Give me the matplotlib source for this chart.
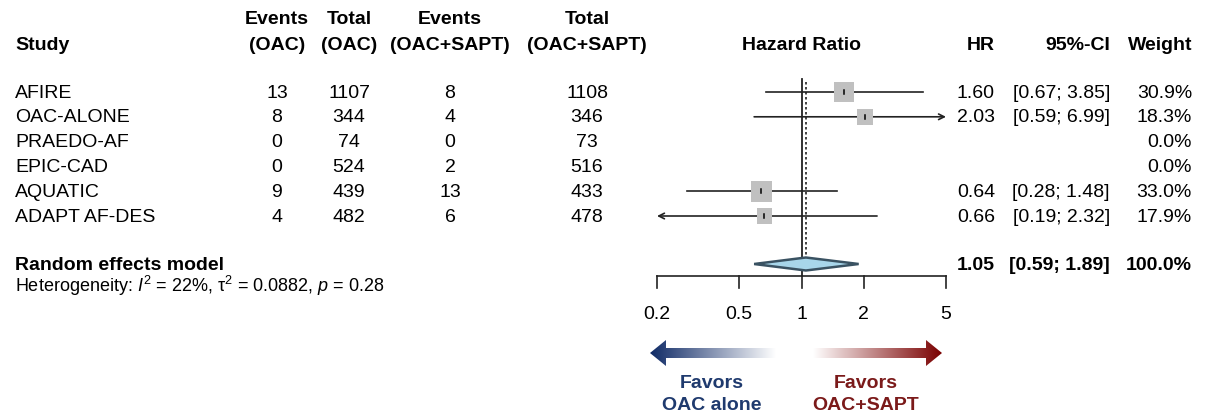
import numpy as np
import matplotlib
matplotlib.use("Agg")
import matplotlib.pyplot as plt
from matplotlib.patches import Polygon
from matplotlib.colors import to_rgb

plt.rcParams['font.family'] = ['Liberation Sans', 'DejaVu Sans']
plt.rcParams['mathtext.fontset'] = 'custom'
plt.rcParams['mathtext.rm'] = 'Liberation Sans'
plt.rcParams['mathtext.it'] = 'Liberation Sans:italic'

# study data
studies = ["AFIRE", "OAC-ALONE", "PRAEDO-AF", "EPIC-CAD", "AQUATIC", "ADAPT AF-DES"]
ev_oac = [13, 8, 0, 0, 9, 4]
n_oac = [1107, 344, 74, 524, 439, 482]
ev_sapt = [8, 4, 0, 2, 13, 6]
n_sapt = [1108, 346, 73, 516, 433, 478]
hr = [1.60, 2.03, None, None, 0.64, 0.66]
ci_lo = [0.67, 0.59, None, None, 0.28, 0.19]
ci_hi = [3.85, 6.99, None, None, 1.48, 2.32]
weight = [30.9, 18.3, 0.0, 0.0, 33.0, 17.9]

# pooled estimate
pooled_hr = 1.05
pooled_lo = 0.59
pooled_hi = 1.89
pooled_weight = 100.0
het_text = "Heterogeneity: $I^2$ = 22%, τ$^2$ = 0.0882, $p$ = 0.28"

xticks = [0.2, 0.5, 1, 2, 5]
xlim = (0.2, 5)

W, H = 1206, 416
fig = plt.figure(figsize=(W / 100, H / 100), dpi=100)

# overlay axes in pixel coordinates for the table text
tx = fig.add_axes([0, 0, 1, 1])
tx.set_xlim(0, W)
tx.set_ylim(H, 0)
tx.axis('off')

fs = 14
row_y = [93 + 24.8 * i for i in range(len(studies))]
re_y = 265

# headers
tx.text(15, 45, "Study", fontsize=fs, fontweight='bold', va='center', ha='left')
cols = [(277, "Events", "(OAC)"), (349, "Total", "(OAC)"),
        (450, "Events", "(OAC+SAPT)"), (587, "Total", "(OAC+SAPT)")]
for cx, l1, l2 in cols:
    tx.text(cx, 19, l1, fontsize=fs, fontweight='bold', va='center', ha='center')
    tx.text(cx, 45, l2, fontsize=fs, fontweight='bold', va='center', ha='center')
tx.text(801, 45, "Hazard Ratio", fontsize=fs, fontweight='bold', va='center', ha='center')
tx.text(995, 45, "HR", fontsize=fs, fontweight='bold', va='center', ha='right')
tx.text(1110, 45, "95%-CI", fontsize=fs, fontweight='bold', va='center', ha='right')
tx.text(1192, 45, "Weight", fontsize=fs, fontweight='bold', va='center', ha='right')

# study rows
for i, y in enumerate(row_y):
    tx.text(15, y, studies[i], fontsize=fs, va='center', ha='left')
    tx.text(277, y, str(ev_oac[i]), fontsize=fs, va='center', ha='center')
    tx.text(349, y, str(n_oac[i]), fontsize=fs, va='center', ha='center')
    tx.text(450, y, str(ev_sapt[i]), fontsize=fs, va='center', ha='center')
    tx.text(587, y, str(n_sapt[i]), fontsize=fs, va='center', ha='center')
    if hr[i] is not None:
        tx.text(995, y, "%.2f" % hr[i], fontsize=fs, va='center', ha='right')
        tx.text(1110, y, "[%.2f; %.2f]" % (ci_lo[i], ci_hi[i]), fontsize=fs, va='center', ha='right')
    tx.text(1192, y, "%.1f%%" % weight[i], fontsize=fs, va='center', ha='right')

# pooled row
tx.text(15, re_y, "Random effects model", fontsize=fs, fontweight='bold', va='center', ha='left')
tx.text(995, re_y, "%.2f" % pooled_hr, fontsize=fs, fontweight='bold', va='center', ha='right')
tx.text(1110, re_y, "[%.2f; %.2f]" % (pooled_lo, pooled_hi), fontsize=fs, fontweight='bold',
        va='center', ha='right')
tx.text(1192, re_y, "%.1f%%" % pooled_weight, fontsize=fs, fontweight='bold', va='center', ha='right')
tx.text(15, 286, het_text, fontsize=13, va='center', ha='left')

# forest plot axes: log x, y in pixel rows
fx0, fx1, fy0, fy1 = 657, 946, 70, 330
ax = fig.add_axes([fx0 / W, 1 - fy1 / H, (fx1 - fx0) / W, (fy1 - fy0) / H])
ax.set_xscale('log')
ax.set_xlim(*xlim)
ax.set_ylim(fy1, fy0)
ax.axis('off')

axis_y = 276
ax.plot([1, 1], [79, axis_y], color='#222222', lw=1.3)
ax.plot([pooled_hr, pooled_hr], [82, 257], color='#222222', lw=1.2, ls=(0, (1.5, 1.5)))

for i, y in enumerate(row_y):
    if hr[i] is None:
        continue
    yy = y - 1
    lo = max(ci_lo[i], xlim[0])
    hi = min(ci_hi[i], xlim[1])
    if ci_hi[i] > xlim[1]:
        ax.annotate('', xy=(hi, yy), xytext=(lo, yy),
                    arrowprops=dict(arrowstyle='->', lw=1.2, color='#222222',
                                    shrinkA=0, shrinkB=0), annotation_clip=False)
    elif ci_lo[i] < xlim[0]:
        ax.annotate('', xy=(lo, yy), xytext=(hi, yy),
                    arrowprops=dict(arrowstyle='->', lw=1.2, color='#222222',
                                    shrinkA=0, shrinkB=0), annotation_clip=False)
    else:
        ax.plot([lo, hi], [yy, yy], color='#222222', lw=1.2)
    side_px = 3.6 * np.sqrt(weight[i])
    ax.scatter([hr[i]], [yy], marker='s', s=(side_px * 0.72) ** 2, color='#c0c0c0',
               edgecolors='none', zorder=3)
    ax.plot([hr[i], hr[i]], [yy - 1.8, yy + 1.8], color='black', lw=1.1, zorder=4)

dia = Polygon([(pooled_lo, re_y - 1), (pooled_hr, re_y - 7.5), (pooled_hi, re_y - 1),
               (pooled_hr, re_y + 5.5)], closed=True, facecolor='#a8d6ea',
              edgecolor='#3a5262', lw=1.8, zorder=3)
ax.add_patch(dia)

# x axis drawn by hand
ax.plot([xticks[0], xticks[-1]], [axis_y, axis_y], color='#222222', lw=1.2, clip_on=False)
for t in xticks:
    ax.plot([t, t], [axis_y, axis_y + 12], color='#222222', lw=1.2, clip_on=False)
    ax.text(t, 315, "%g" % t, fontsize=fs, ha='center', va='center')

# gradient "favors" arrows
def grad_arrow(x_tail, x_tip, y, c_from, c_to):
    d = 1 if x_tip > x_tail else -1
    hx = x_tip - d * 16
    pts = [(x_tip, y), (hx, y - 13), (hx, y - 5), (x_tail, y - 5),
           (x_tail, y + 5), (hx, y + 5), (hx, y + 13)]
    poly = Polygon(pts, closed=True, facecolor='none', edgecolor='none')
    tx.add_patch(poly)
    n = 256
    a = np.array(to_rgb(c_from))
    b = np.array(to_rgb(c_to))
    t = np.linspace(0, 1, n)[:, None]
    g = (a * (1 - t) + b * t)[None, :, :]
    left, right = min(x_tail, x_tip), max(x_tail, x_tip)
    if x_tip < x_tail:
        g = g[:, ::-1, :]
    im = tx.imshow(g, extent=[left, right, y + 14, y - 14], aspect='auto',
                   interpolation='bilinear')
    im.set_clip_path(poly)

grad_arrow(776, 650, 353, '#ffffff', '#0f2a66')
grad_arrow(813, 942, 353, '#ffffff', '#7a0000')
tx.set_xlim(0, W)
tx.set_ylim(H, 0)

tx.text(712, 383, "Favors", fontsize=fs, fontweight='bold', color='#1f3a6e', ha='center', va='center')
tx.text(712, 405, "OAC alone", fontsize=fs, fontweight='bold', color='#1f3a6e', ha='center', va='center')
tx.text(866, 383, "Favors", fontsize=fs, fontweight='bold', color='#7b1a1a', ha='center', va='center')
tx.text(866, 405, "OAC+SAPT", fontsize=fs, fontweight='bold', color='#7b1a1a', ha='center', va='center')

fig.savefig("out.png", dpi=100)
